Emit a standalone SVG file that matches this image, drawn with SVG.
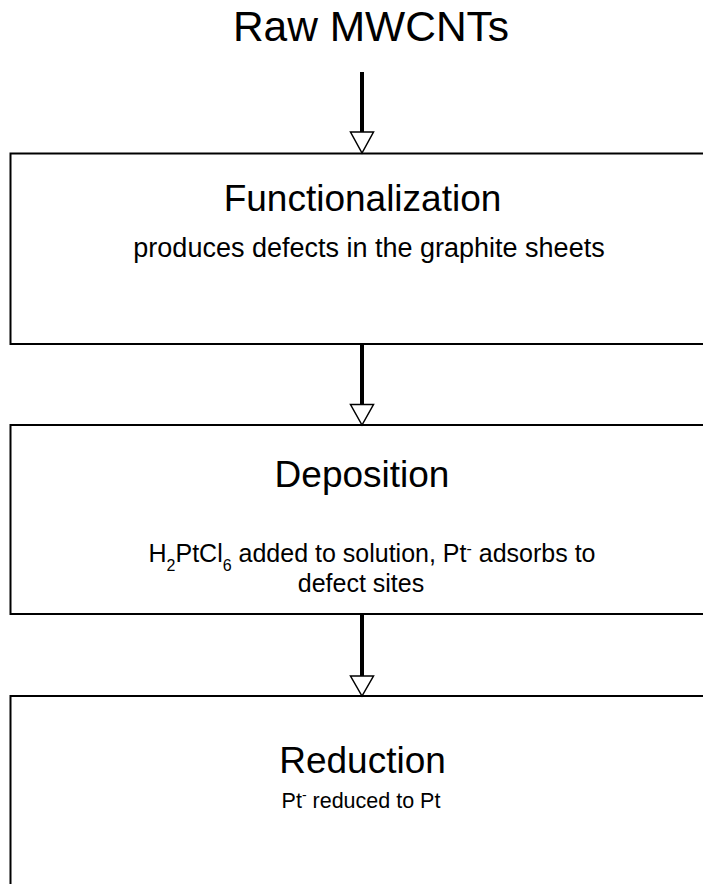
<svg xmlns="http://www.w3.org/2000/svg" width="703" height="884" viewBox="0 0 703 884">
<style>
.box{fill:#fff;stroke:#000;stroke-width:2}
.t{font-family:"Liberation Sans",Arial,sans-serif;fill:#000;text-anchor:middle}
.h{font-size:37px}
.s{font-size:25px}
.shaft{stroke:#000;stroke-width:4;fill:none}
.head{fill:#fff;stroke:#000;stroke-width:1.5;stroke-linejoin:miter}
.sm{font-size:16px}
</style>
<rect width="703" height="884" fill="#fff"/>
<g id="raw">
<text class="t" x="371" y="41" font-size="42.5">Raw MWCNTs</text>
</g>
<g id="functionalization">
<rect class="box" x="10.5" y="153.5" width="700" height="190.5"/>
<text class="t h" x="362.5" y="211">Functionalization</text>
<text class="t" x="369" y="257" font-size="27">produces defects in the graphite sheets</text>
</g>
<g id="deposition">
<rect class="box" x="10.5" y="425" width="700" height="189"/>
<text class="t h" x="362" y="487">Deposition</text>
<text class="t s" x="372" y="562">H<tspan class="sm" baseline-shift="sub">2</tspan>PtCl<tspan class="sm" baseline-shift="sub">6</tspan> added to solution, Pt<tspan class="sm" baseline-shift="super">-</tspan> adsorbs to</text>
<text class="t s" x="361" y="592">defect sites</text>
</g>
<g id="reduction">
<rect class="box" x="10.5" y="696" width="700" height="200"/>
<text class="t h" x="362.5" y="773">Reduction</text>
<text class="t" x="361" y="808" font-size="21.5">Pt<tspan font-size="14" baseline-shift="super">-</tspan> reduced to Pt</text>
</g>
<g id="connectors">
<line class="shaft" x1="362" y1="72" x2="362" y2="133"/>
<polygon class="head" points="350.5,132 373.5,132 362,153"/>
<line class="shaft" x1="362" y1="344" x2="362" y2="405"/>
<polygon class="head" points="350.5,404.5 373.5,404.5 362,425"/>
<line class="shaft" x1="362" y1="614" x2="362" y2="677"/>
<polygon class="head" points="350.5,676 373.5,676 362,696"/>
</g>
</svg>
